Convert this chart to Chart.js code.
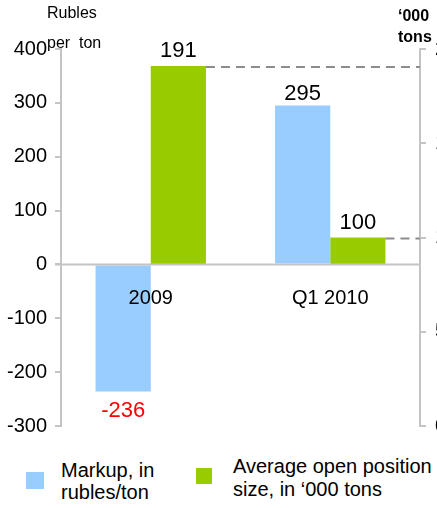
<!DOCTYPE html>
<html>
<head>
<meta charset="utf-8">
<script src="https://cdn.jsdelivr.net/npm/chart.js"></script>
<style>
  html, body { margin: 0; padding: 0; background: #fff; overflow: hidden; }
  body { width: 437px; height: 508px; position: relative; font-family: "Liberation Sans", Arial, sans-serif; }
  #wrap { position: absolute; left: 0; top: 0; width: 470px; height: 447px; }
  .t { position: absolute; white-space: nowrap; color: #000; }
  .sw { position: absolute; }
</style>
</head>
<body>
<div id="wrap"><canvas id="c"></canvas></div>
<div class="t" style="left:47px;top:4px;font-size:16px;">Rubles</div>
<div class="t" style="left:47px;top:34px;font-size:16px;">per&nbsp; ton</div>
<div class="t" style="left:398px;top:5px;font-size:16px;font-weight:bold;line-height:21px;">‘000<br>tons</div>

<div class="sw" style="left:26px;top:472px;width:18px;height:17px;background:#99ccff;"></div>
<div class="t" style="left:61px;top:459px;font-size:20px;line-height:22px;">Markup, in<br>rubles/ton</div>
<div class="sw" style="left:196px;top:468px;width:16px;height:16px;background:#99cc00;"></div>
<div class="t" style="left:233px;top:455px;font-size:20px;line-height:23px;">Average open position<br>size, in ‘000 tons</div>

<script>
const categories = ['2009', 'Q1 2010'];
const markup = [-236, 295];          // rubles per ton
const openPosition = [191, 100];     // '000 tons
const leftTicks = [-300, -200, -100, 0, 100, 200, 300, 400];
const rightTicks = [0, 50, 100, 150, 200];

const yMin = -300, yMax = 400, y1Min = 0, y1Max = 200;
// green bars start at the left axis zero line
const greenBase = y1Min + (0 - yMin) / (yMax - yMin) * (y1Max - y1Min);

const axisColor = '#c4c4c4';
const FONT = '"Liberation Sans", Arial, sans-serif';

const overlay = {
  id: 'overlay',
  afterDatasetsDraw(chart) {
    const ctx = chart.ctx;
    const area = chart.chartArea;
    const y = chart.scales.y;
    const x = chart.scales.x;
    const zero = y.getPixelForValue(0);

    ctx.save();
    // zero line
    ctx.strokeStyle = axisColor;
    ctx.lineWidth = 2;
    ctx.beginPath();
    ctx.moveTo(area.left - 6, zero);
    ctx.lineTo(area.right, zero);
    ctx.stroke();

    // dashed leaders from green bars to the right axis
    const gMeta = chart.getDatasetMeta(1);
    ctx.strokeStyle = '#8c8c8c';
    ctx.setLineDash([9, 6]);
    gMeta.data.forEach(bar => {
      const p = bar.getProps(['x', 'y', 'width'], true);
      ctx.beginPath();
      ctx.moveTo(p.x + p.width / 2, p.y + 1);
      ctx.lineTo(area.right, p.y + 1);
      ctx.stroke();
    });
    ctx.setLineDash([]);

    // value labels
    ctx.font = '22px ' + FONT;
    ctx.textAlign = 'center';
    const bMeta = chart.getDatasetMeta(0);
    bMeta.data.forEach((bar, i) => {
      const p = bar.getProps(['x', 'y'], true);
      const v = markup[i];
      if (v < 0) {
        ctx.fillStyle = '#ff0000';
        ctx.textBaseline = 'top';
        ctx.fillText(String(v), p.x, p.y + 8);
      } else {
        ctx.fillStyle = '#000';
        ctx.textBaseline = 'bottom';
        ctx.fillText(String(v), p.x, p.y - 1);
      }
    });
    gMeta.data.forEach((bar, i) => {
      const p = bar.getProps(['x', 'y'], true);
      ctx.fillStyle = '#000';
      ctx.textBaseline = 'bottom';
      ctx.fillText(String(openPosition[i]), p.x, p.y - 4);
    });

    // category labels just below the zero line
    ctx.font = '20px ' + FONT;
    ctx.textBaseline = 'middle';
    categories.forEach((c, i) => {
      ctx.fillText(c, x.getPixelForValue(i), zero + 34);
    });
    ctx.restore();
  }
};

new Chart(document.getElementById('c'), {
  type: 'bar',
  data: {
    labels: categories,
    datasets: [
      { label: 'Markup, in rubles/ton', data: markup, backgroundColor: '#99ccff', yAxisID: 'y' },
      { label: "Average open position size, in '000 tons", data: openPosition, backgroundColor: '#99cc00', yAxisID: 'y1', base: greenBase }
    ]
  },
  options: {
    responsive: true,
    maintainAspectRatio: false,
    animation: false,
    events: [],
    layout: { padding: { top: 49, bottom: 2, left: 0, right: 0 } },
    datasets: { bar: { barPercentage: 1, categoryPercentage: 0.615 } },
    plugins: { legend: { display: false }, tooltip: { enabled: false } },
    scales: {
      x: {
        display: false
      },
      y: {
        position: 'left',
        min: yMin, max: yMax,
        afterBuildTicks(s) { s.ticks = leftTicks.map(v => ({ value: v })); },
        afterFit(s) { s.width = 61; },
        grid: { drawOnChartArea: false, drawTicks: true, tickLength: 6, color: axisColor, lineWidth: 2 },
        border: { color: axisColor, width: 2 },
        ticks: { color: '#000', padding: 8, font: { size: 20, family: FONT } }
      },
      y1: {
        position: 'right',
        min: y1Min, max: y1Max,
        afterBuildTicks(s) { s.ticks = rightTicks.map(v => ({ value: v })); },
        afterFit(s) { s.width = 50; },
        grid: { drawOnChartArea: false, drawTicks: true, tickLength: 6, color: axisColor, lineWidth: 2 },
        border: { color: axisColor, width: 2 },
        ticks: { color: '#000', padding: 9, font: { size: 20, family: FONT } }
      }
    }
  },
  plugins: [overlay]
});
</script>
</body>
</html>
